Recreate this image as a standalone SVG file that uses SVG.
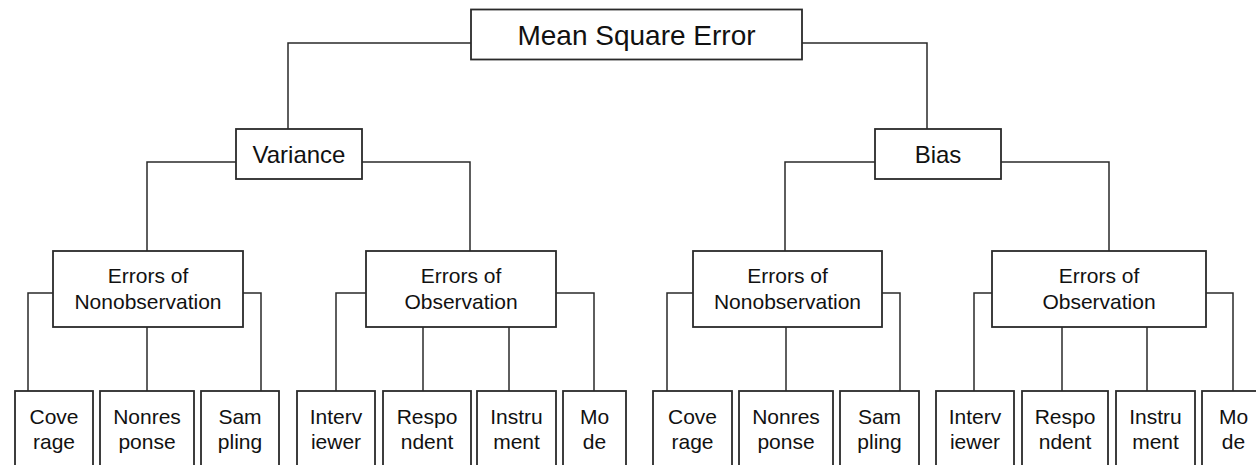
<svg xmlns="http://www.w3.org/2000/svg" width="1256" height="465" viewBox="0 0 1256 465">
<style>
.box{fill:#fff;stroke:#2a2a2a;stroke-width:1.8}
.con{fill:none;stroke:#2a2a2a;stroke-width:1.5}
text{font-family:"Liberation Sans",Arial,sans-serif;fill:#111;text-anchor:middle}
.t1{font-size:28px}
.t2{font-size:24px}
.t3{font-size:21px}
</style>
<rect width="1256" height="465" fill="#fff"/>
<g id="connectors">
<path class="con" d="M471,43 H288 V129"/>
<path class="con" d="M802,43 H927 V129"/>
<path class="con" d="M236,162 H147 V251"/>
<path class="con" d="M362,162 H470 V251"/>
<path class="con" d="M875,162 H785 V251"/>
<path class="con" d="M1001,162 H1109 V251"/>
<path class="con" d="M53,293 H28 V391"/>
<path class="con" d="M243,293 H261 V391"/>
<path class="con" d="M147,327 V391"/>
<path class="con" d="M366,293 H336 V391"/>
<path class="con" d="M556,293 H594 V391"/>
<path class="con" d="M423,327 V391"/>
<path class="con" d="M509,327 V391"/>
<path class="con" d="M693,293 H667 V391"/>
<path class="con" d="M882,293 H900 V391"/>
<path class="con" d="M786,327 V391"/>
<path class="con" d="M992,293 H974 V391"/>
<path class="con" d="M1206,293 H1233 V391"/>
<path class="con" d="M1062,327 V391"/>
<path class="con" d="M1147,327 V391"/>
</g>
<g id="mse"><rect class="box" x="471" y="9.5" width="331" height="50"/><text class="t1" x="636.5" y="45">Mean Square Error</text></g>
<g id="variance"><rect class="box" x="236" y="129" width="126" height="50"/><text class="t2" x="299" y="163">Variance</text></g>
<g id="bias"><rect class="box" x="875" y="129" width="126" height="50"/><text class="t2" x="938" y="163">Bias</text></g>
<g id="eno1"><rect class="box" x="53" y="251" width="190" height="76"/><text class="t3" x="148" y="283">Errors of</text><text class="t3" x="148" y="309">Nonobservation</text></g>
<g id="eo1"><rect class="box" x="366" y="251" width="190" height="76"/><text class="t3" x="461" y="283">Errors of</text><text class="t3" x="461" y="309">Observation</text></g>
<g id="eno2"><rect class="box" x="693" y="251" width="189" height="76"/><text class="t3" x="787.5" y="283">Errors of</text><text class="t3" x="787.5" y="309">Nonobservation</text></g>
<g id="eo2"><rect class="box" x="992" y="251" width="214" height="76"/><text class="t3" x="1099" y="283">Errors of</text><text class="t3" x="1099" y="309">Observation</text></g>
<g id="coverage1"><rect class="box" x="15" y="391" width="78" height="100"/><text class="t3" x="54" y="424">Cove</text><text class="t3" x="54" y="449">rage</text></g>
<g id="nonresponse1"><rect class="box" x="100" y="391" width="94" height="100"/><text class="t3" x="147" y="424">Nonres</text><text class="t3" x="147" y="449">ponse</text></g>
<g id="sampling1"><rect class="box" x="201" y="391" width="78" height="100"/><text class="t3" x="240" y="424">Sam</text><text class="t3" x="240" y="449">pling</text></g>
<g id="interviewer1"><rect class="box" x="297" y="391" width="78" height="100"/><text class="t3" x="336" y="424">Interv</text><text class="t3" x="336" y="449">iewer</text></g>
<g id="respondent1"><rect class="box" x="383" y="391" width="88" height="100"/><text class="t3" x="427" y="424">Respo</text><text class="t3" x="427" y="449">ndent</text></g>
<g id="instrument1"><rect class="box" x="477" y="391" width="79" height="100"/><text class="t3" x="516.5" y="424">Instru</text><text class="t3" x="516.5" y="449">ment</text></g>
<g id="mode1"><rect class="box" x="563" y="391" width="63" height="100"/><text class="t3" x="594.5" y="424">Mo</text><text class="t3" x="594.5" y="449">de</text></g>
<g id="coverage2"><rect class="box" x="653" y="391" width="79" height="100"/><text class="t3" x="692.5" y="424">Cove</text><text class="t3" x="692.5" y="449">rage</text></g>
<g id="nonresponse2"><rect class="box" x="739" y="391" width="94" height="100"/><text class="t3" x="786" y="424">Nonres</text><text class="t3" x="786" y="449">ponse</text></g>
<g id="sampling2"><rect class="box" x="840" y="391" width="79" height="100"/><text class="t3" x="879.5" y="424">Sam</text><text class="t3" x="879.5" y="449">pling</text></g>
<g id="interviewer2"><rect class="box" x="936" y="391" width="78" height="100"/><text class="t3" x="975" y="424">Interv</text><text class="t3" x="975" y="449">iewer</text></g>
<g id="respondent2"><rect class="box" x="1022" y="391" width="86" height="100"/><text class="t3" x="1065" y="424">Respo</text><text class="t3" x="1065" y="449">ndent</text></g>
<g id="instrument2"><rect class="box" x="1116" y="391" width="79" height="100"/><text class="t3" x="1155.5" y="424">Instru</text><text class="t3" x="1155.5" y="449">ment</text></g>
<g id="mode2"><rect class="box" x="1202" y="391" width="63" height="100"/><text class="t3" x="1233.5" y="424">Mo</text><text class="t3" x="1233.5" y="449">de</text></g>
</svg>
